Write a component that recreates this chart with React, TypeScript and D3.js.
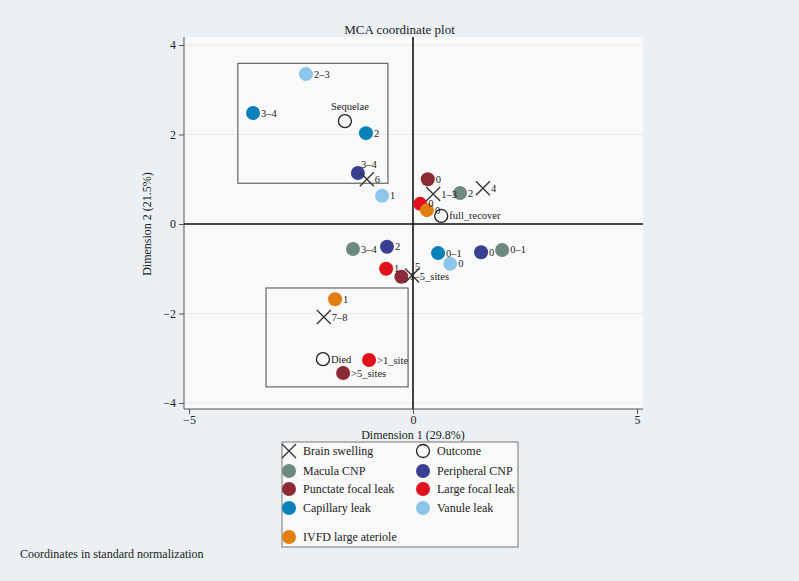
import React, { useEffect, useRef } from "react";
import * as d3 from "d3";

// MCA coordinates (dimension 1, dimension 2)
const brainSwelling = [
  { label: "6", x: -1.03, y: 1.0 },
  { label: "1–3", x: 0.45, y: 0.67 },
  { label: "4", x: 1.56, y: 0.8 },
  { label: "5", x: -0.02, y: -1.15, pos: "tr" },
  { label: "7–8", x: -1.99, y: -2.08 },
];
const outcome = [
  { label: "Sequelae", x: -1.52, y: 2.3, pos: "t" },
  { label: "full_recover", x: 0.63, y: 0.18 },
  { label: "Died", x: -2.01, y: -3.02 },
];
const maculaCNP = [
  { label: "2", x: 1.05, y: 0.69 },
  { label: "3–4", x: -1.34, y: -0.56 },
  { label: "0–1", x: 1.99, y: -0.58 },
];
const peripheralCNP = [
  { label: "3–4", x: -1.23, y: 1.14, pos: "tr" },
  { label: "2", x: -0.58, y: -0.51 },
  { label: "0", x: 1.52, y: -0.63 },
];
const punctateLeak = [
  { label: "0", x: 0.33, y: 1.0 },
  { label: "1–5_sites", x: -0.26, y: -1.18 },
  { label: ">5_sites", x: -1.56, y: -3.33 },
];
const largeLeak = [
  { label: "0", x: 0.16, y: 0.45 },
  { label: "1", x: -0.6, y: -1.0 },
  { label: ">1_site", x: -0.98, y: -3.04 },
];
const capillaryLeak = [
  { label: "3–4", x: -3.57, y: 2.48 },
  { label: "2", x: -1.05, y: 2.03 },
  { label: "0–1", x: 0.56, y: -0.65 },
];
const vanuleLeak = [
  { label: "2–3", x: -2.39, y: 3.35 },
  { label: "1", x: -0.69, y: 0.63 },
  { label: "0", x: 0.83, y: -0.89 },
];
const ivfdLeak = [
  { label: "0", x: 0.31, y: 0.31 },
  { label: "1", x: -1.74, y: -1.68 },
];

const series = [
  { name: "Brain swelling", kind: "x", color: "#333", data: brainSwelling },
  { name: "Outcome", kind: "o", color: "#222", data: outcome },
  { name: "Macula CNP", kind: "dot", color: "#6e8a80", data: maculaCNP },
  { name: "Peripheral CNP", kind: "dot", color: "#3a3f91", data: peripheralCNP },
  { name: "Punctate focal leak", kind: "dot", color: "#8c2b36", data: punctateLeak },
  { name: "Large focal leak", kind: "dot", color: "#e0111d", data: largeLeak },
  { name: "Capillary leak", kind: "dot", color: "#0a80b8", data: capillaryLeak },
  { name: "Vanule leak", kind: "dot", color: "#8ec5ea", data: vanuleLeak },
  { name: "IVFD large ateriole", kind: "dot", color: "#e07e12", data: ivfdLeak },
];
// draw order (legend order differs from plotting order)
const drawOrder = [2, 3, 4, 5, 6, 7, 8, 1, 0];

// highlighted clusters
const boxes = [
  { x0: -3.91, x1: -0.56, y0: 0.91, y1: 3.59 },
  { x0: -3.28, x1: -0.11, y0: -3.64, y1: -1.43 },
];

const xTicks = [-5, 0, 5];
const yTicks = [-4, -2, 0, 2, 4];

const W = 799, H = 581;
const font = "'Liberation Serif', 'DejaVu Serif', serif";

export default function App() {
  const ref = useRef<SVGSVGElement>(null);

  useEffect(() => {
    const svg = d3.select(ref.current);
    svg.selectAll("*").remove();

    const left = 184, right = 643, top = 37, bottom = 409;
    const x = d3.scaleLinear().domain([-5, 5]).range([189, 637]);
    const y = d3.scaleLinear().domain([-4, 4]).range([403, 45]);
    const fmt = (d: any) => String(d).replace("-", "−");

    svg.append("rect").attr("width", W).attr("height", H).attr("fill", "#eaf0f3");
    svg.append("rect")
      .attr("x", left).attr("y", top)
      .attr("width", right - left).attr("height", bottom - top)
      .attr("fill", "#f9f9f9");

    // faint grid
    svg.append("g").selectAll("line").data(yTicks).enter().append("line")
      .attr("x1", left).attr("x2", right)
      .attr("y1", d => y(d)).attr("y2", d => y(d))
      .attr("stroke", "#eaeaea").attr("stroke-width", 1);

    // axes
    const yAxis = svg.append("g").attr("transform", `translate(${left},0)`)
      .call(d3.axisLeft(y).tickValues(yTicks).tickSize(5).tickFormat(fmt));
    yAxis.select(".domain").attr("d", `M0,${top}V${bottom}`).attr("stroke", "#555");
    const xAxis = svg.append("g").attr("transform", `translate(0,${bottom})`)
      .call(d3.axisBottom(x).tickValues(xTicks).tickSize(5).tickPadding(1).tickFormat(fmt));
    xAxis.select(".domain").attr("d", `M${left},0H${right}`).attr("stroke", "#555");
    svg.selectAll(".tick line").attr("stroke", "#555");
    svg.selectAll(".tick text").attr("fill", "#222").style("font-family", font).style("font-size", "12px");

    // zero reference lines
    svg.append("line").attr("x1", x(0)).attr("x2", x(0)).attr("y1", top).attr("y2", bottom)
      .attr("stroke", "#111").attr("stroke-width", 1.6);
    svg.append("line").attr("x1", left).attr("x2", right).attr("y1", y(0)).attr("y2", y(0))
      .attr("stroke", "#111").attr("stroke-width", 1.6);

    // boxes
    svg.append("g").selectAll("rect").data(boxes).enter().append("rect")
      .attr("x", d => x(d.x0)).attr("y", d => y(d.y1))
      .attr("width", d => x(d.x1) - x(d.x0)).attr("height", d => y(d.y0) - y(d.y1))
      .attr("fill", "none").attr("stroke", "#666").attr("stroke-width", 1.2);

    const drawMarker = (g: any, kind: string, color: string, cx: number, cy: number) => {
      if (kind === "x") {
        const s = 7;
        g.append("path")
          .attr("d", `M${cx - s},${cy - s}L${cx + s},${cy + s}M${cx - s},${cy + s}L${cx + s},${cy - s}`)
          .attr("stroke", color).attr("stroke-width", 1.3).attr("fill", "none");
      } else if (kind === "o") {
        g.append("circle").attr("cx", cx).attr("cy", cy).attr("r", 6.5)
          .attr("fill", "none").attr("stroke", color).attr("stroke-width", 1.3);
      } else {
        g.append("circle").attr("cx", cx).attr("cy", cy).attr("r", 7).attr("fill", color);
      }
    };

    const pts = svg.append("g");
    drawOrder.forEach(i => {
      const s = series[i];
      s.data.forEach((d: any) => {
        drawMarker(pts, s.kind, s.color, x(d.x), y(d.y));
      });
    });
    const labs = svg.append("g").style("font-family", font).style("font-size", "10.5px").attr("fill", "#222");
    drawOrder.forEach(i => {
      const s = series[i];
      s.data.forEach((d: any) => {
        const t = labs.append("text").text(d.label);
        if (d.pos === "t") {
          t.attr("x", x(d.x) + 5).attr("y", y(d.y) - 11).attr("text-anchor", "middle");
        } else if (d.pos === "tr") {
          t.attr("x", x(d.x) + 3).attr("y", y(d.y) - 5);
        } else {
          t.attr("x", x(d.x) + 8).attr("y", y(d.y) + 3.5);
        }
      });
    });

    // titles
    svg.append("text").attr("x", W / 2).attr("y", 34).attr("text-anchor", "middle")
      .style("font-family", font).style("font-size", "13px").attr("fill", "#222")
      .text("MCA coordinate plot");
    svg.append("text").attr("x", x(0)).attr("y", 439).attr("text-anchor", "middle")
      .style("font-family", font).style("font-size", "12px").attr("fill", "#222")
      .text("Dimension 1 (29.8%)");
    svg.append("text").attr("transform", `translate(151,${y(0)}) rotate(-90)`).attr("text-anchor", "middle")
      .style("font-family", font).style("font-size", "12px").attr("fill", "#222")
      .text("Dimension 2 (21.5%)");
    svg.append("text").attr("x", 20).attr("y", 558)
      .style("font-family", font).style("font-size", "12px").attr("fill", "#222")
      .text("Coordinates in standard normalization");

    // legend
    const lg = svg.append("g");
    lg.append("rect").attr("x", 282).attr("y", 442).attr("width", 236).attr("height", 105)
      .attr("fill", "#f9f9f9").attr("stroke", "#777").attr("stroke-width", 1);
    const rowY = [451, 471, 489, 508, 537];
    series.forEach((s, i) => {
      const col = i === 8 ? 0 : i % 2;
      const row = i === 8 ? 4 : Math.floor(i / 2);
      const mx = col === 0 ? 289 : 423;
      const cy = rowY[row];
      drawMarker(lg, s.kind, s.color, mx, cy);
      lg.append("text").attr("x", mx + 14).attr("y", cy + 4)
        .style("font-family", font).style("font-size", "12px").attr("fill", "#222")
        .text(s.name);
    });
  }, []);

  return <svg ref={ref} width={W} height={H} style={{ display: "block", position: "absolute", left: 0, top: 0 }} />;
}
